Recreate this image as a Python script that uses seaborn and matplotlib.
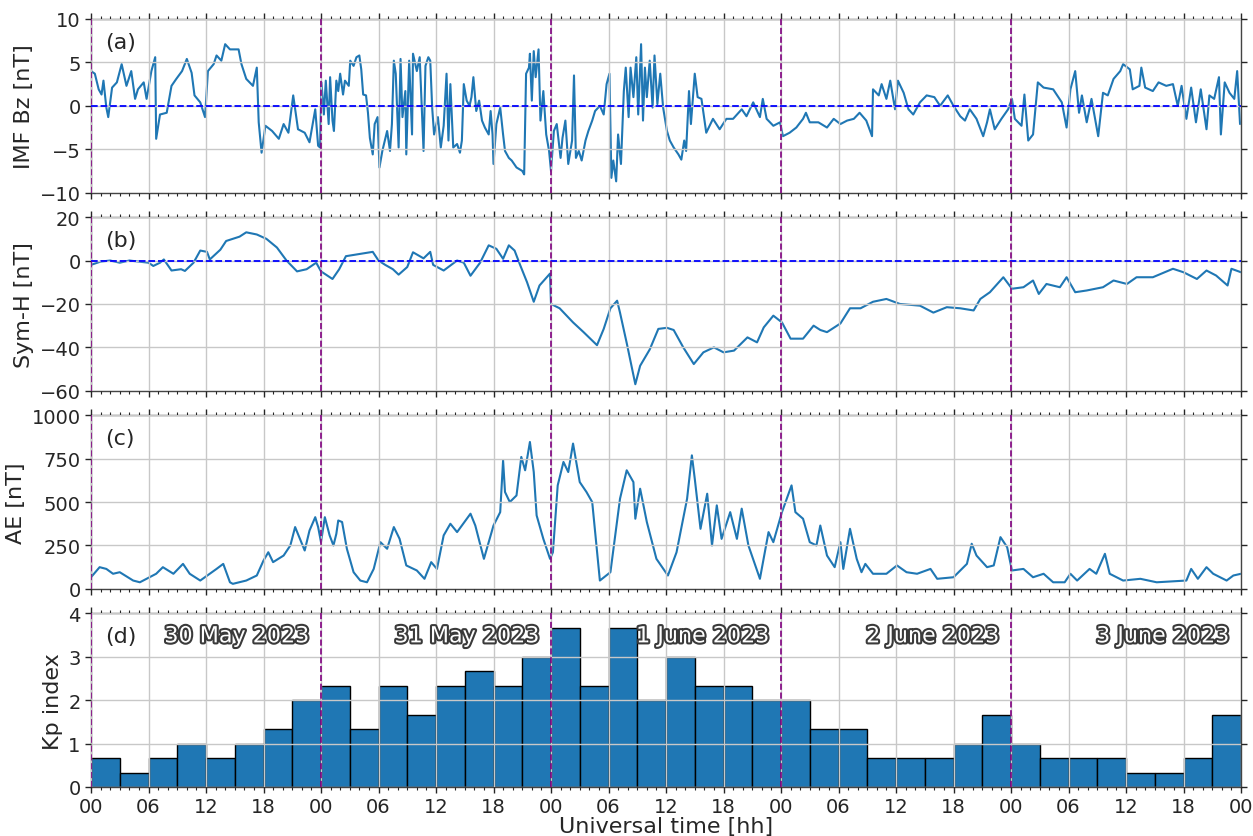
import numpy as np
import pandas as pd
import matplotlib
matplotlib.use("Agg")
import matplotlib.pyplot as plt
import matplotlib.patheffects as pe
from matplotlib.ticker import MultipleLocator, FixedLocator
import seaborn as sns

# ---- IMF Bz (nT) vs hours since 30 May 2023 00 UT ----
bz_hours = [
    0.0, 0.4, 0.8, 1.1, 1.3, 1.6, 1.8, 2.2, 2.7, 3.2,
    3.7, 4.2, 4.6, 4.9, 5.5, 5.8, 6.3, 6.7, 6.8, 7.2,
    7.9, 8.4, 8.9, 9.5, 10.0, 10.5, 10.8, 11.4, 11.9, 12.2,
    12.8, 13.1, 13.6, 14.0, 14.5, 15.4, 15.7, 16.2, 16.9, 17.3,
    17.5, 17.8, 18.2, 18.9, 19.6, 20.1, 20.6, 21.1, 21.6, 22.3,
    22.8, 23.4, 23.7,
    23.9, 24.05, 24.3, 24.5, 24.8, 24.95, 25.2, 25.35, 25.6, 25.8,
    26.0, 26.3, 26.5, 26.9, 27.05, 27.4, 27.7, 28.0, 28.2, 28.4,
    28.7, 28.9, 29.1, 29.4, 29.6, 29.9, 30.1, 30.4, 30.9, 31.2,
    31.4, 31.6, 31.8, 32.1, 32.3, 32.5, 32.8, 32.9, 33.2, 33.5,
    33.6, 34.0, 34.3, 34.7, 34.9, 35.2, 35.4, 35.6, 35.8, 36.2,
    36.5, 36.8, 37.1, 37.3, 37.5, 37.8, 38.2, 38.5, 38.7, 38.9,
    39.2, 39.5, 39.7, 39.9, 40.2, 40.5, 40.8, 41.1, 41.5, 41.7,
    41.9, 42.0, 42.3, 42.7, 43.0, 43.2, 43.6, 43.9, 44.4, 45.0,
    45.2, 45.4, 45.7, 45.8, 46.0, 46.2, 46.4, 46.7, 46.9, 47.2,
    47.5, 47.8, 48.0, 48.3, 48.6, 49.0, 49.2, 49.5, 49.8, 50.2,
    50.4, 50.6, 50.9, 51.2, 51.6, 51.9, 52.3, 52.6, 53.1, 53.5,
    53.8, 54.1, 54.3, 54.5, 54.8, 55.0, 55.3, 55.6, 55.8, 56.1,
    56.3, 56.6, 56.9, 57.1, 57.4, 57.6, 57.8, 58.0, 58.3, 58.6,
    58.8, 59.1, 59.4, 59.7, 60.1, 60.4, 60.8, 61.3, 61.6, 61.9,
    62.1, 62.4, 62.6, 63.0, 63.3,
    63.7, 64.2, 64.9, 65.6, 66.3, 67.0, 67.9, 68.4, 69.1, 69.8,
    70.1, 70.5, 71.2, 71.9, 72.2, 72.9, 73.6, 74.3, 74.6, 75.0,
    75.9, 76.8, 77.5, 78.2, 78.9, 79.6, 80.2, 80.9, 81.5, 81.6,
    82.2, 82.5, 83.0, 83.4, 83.9, 84.2, 84.8, 85.3, 85.8, 86.5,
    87.2, 88.0, 88.6, 89.4, 90.0, 90.7, 91.2, 91.7, 92.4, 93.1,
    93.5, 93.8, 94.3, 95.0, 95.7, 96.1, 96.4, 97.1, 97.4, 97.8,
    98.3, 98.8, 99.4, 100.4, 101.3, 101.8, 102.2, 102.7, 103.1, 103.4,
    103.9, 104.4, 105.1, 105.6, 106.1, 106.7, 107.4, 107.7, 108.4, 108.7,
    109.4, 109.6, 110.0, 110.8, 111.4, 112.2, 112.9, 113.4, 113.8, 114.3,
    114.8, 115.3, 115.8, 116.4, 116.7, 117.2, 117.7, 117.9, 118.3, 118.8,
    119.3, 119.6, 119.9]
bz_nT = [
    4.0, 3.7, 1.9, 1.3, 2.9, -0.2, -1.3, 2.1, 2.7, 4.8,
    2.3, 4.0, 0.8, 1.9, 2.7, 0.8, 4.0, 5.6, -3.8, -1.0,
    -0.8, 2.3, 3.1, 4.0, 5.4, 3.8, 1.2, 0.4, -1.3, 4.0,
    4.8, 5.8, 5.2, 7.1, 6.5, 6.5, 4.8, 3.1, 2.3, 4.4,
    -1.9, -5.4, -2.3, -2.9, -3.8, -2.1, -3.1, 1.2, -2.7, -3.1,
    -4.2, -0.4, -4.6,
    -4.8, 2.7, -1.0, 2.9, -2.1, 3.3, -1.7, -2.9, 2.9, 1.7,
    3.7, 1.3, 2.9, 2.3, 5.2, 4.6, 5.6, 5.8, 4.2, 1.3,
    1.2, -0.8, -3.7, -5.6, -2.1, -1.3, -7.1, -5.2, -2.9, -5.2,
    -2.1, 5.2, 3.7, -4.8, 5.4, -1.3, 1.7, -5.6, 5.2, -3.3,
    6.0, 4.0, 5.6, -5.2, 4.6, 5.6, 5.2, -0.2, -3.3, -1.3,
    -4.8, -2.3, 3.7, -4.0, 2.5, -4.8, -4.4, -5.4, -4.0, 2.5,
    0.6, 0.0, 1.0, 3.3, -0.6, 0.6, -1.7, -2.5, -3.3, -0.6,
    -3.3, -6.7, -2.1, -0.2, -3.3, -5.2, -6.0, -6.3, -7.1, -7.5,
    -7.9, 3.7, 4.4, 6.0, 0.6, 6.3, 3.3, 6.5, -1.7, 1.7,
    -3.3, -5.2, -7.5, -2.9, -2.1, -6.0, -3.7, -1.7, -6.7, -4.0,
    3.5, -6.0, -5.2, -6.3, -4.0, -2.9, -1.7, -0.6, 0.0, -1.0,
    2.5, 3.7, -8.3, -6.3, -8.7, -3.3, -6.7, 1.7, 4.4, -1.3,
    4.4, 1.0, 5.6, -1.0, 7.1, -1.7, 4.4, 1.0, 5.2, -0.2,
    5.8, 0.2, 3.7, -0.2, -2.9, -4.0, -4.8, -5.6, -6.2, -4.0,
    -5.2, 1.7, -2.1, 3.7, 1.0,
    0.8, -3.1, -1.5, -2.7, -1.5, -1.5, -0.4, -1.2, 0.4, -1.3,
    0.8, -1.5, -2.3, -1.9, -3.5, -3.1, -2.5, -1.5, -0.8, -1.9,
    -1.9, -2.5, -1.5, -2.1, -1.7, -1.5, -0.8, -1.7, -3.5, 1.9,
    1.2, 2.5, 0.8, 2.9, -0.4, 2.9, 1.5, -0.4, -1.0, 0.4,
    1.2, 1.0, 0.0, 1.2, 0.0, -1.2, -1.7, -0.4, -1.5, -3.5,
    -1.9, -0.4, -2.7, -1.5, -0.4, 0.8, -1.5, -2.3, 1.3, -4.0,
    -3.3, 2.7, 2.1, 1.9, 0.4, -2.5, 1.9, 4.0, -0.8, 1.2,
    -1.9, 0.8, -3.5, 1.5, 1.2, 3.1, 4.0, 4.8, 4.2, 1.9,
    2.3, 4.4, 2.1, 1.7, 2.7, 2.3, 2.5, 0.0, 2.3, -1.5,
    2.1, -1.9, 1.9, -2.7, 1.2, 0.8, 3.3, -3.3, 2.7, 1.5,
    0.8, 4.0, -2.1]

# ---- Sym-H (nT) ----
symh_hours = [0.0, 1.0, 2.0, 3.0, 4.0, 5.0, 6.0, 6.5, 7.2, 7.6, 8.4, 9.4, 9.8, 10.7, 11.4, 12.1, 12.4, 13.5, 14.1,
              15.5, 16.2, 17.3, 18.3, 19.4, 20.4, 21.5, 22.5, 23.5, 24.0, 25.2, 25.9, 26.6, 28.0, 29.4, 30.0,
              30.7, 31.5, 32.1, 33.0, 33.6, 34.7, 35.4, 35.7, 36.8, 38.2, 38.9, 39.6, 40.6, 41.5, 42.3, 43.0,
              43.6, 44.2, 44.8, 45.5, 46.2, 46.8, 47.9, 48.0, 48.9, 50.3, 51.4, 52.8, 53.5, 54.2, 54.9, 55.2,
              55.9, 56.8, 57.3, 58.3, 59.2, 60.1, 60.8, 61.8, 62.9, 63.9, 65.0, 66.0, 67.1, 68.5, 69.5, 70.2,
              71.2, 72.1, 73.0, 74.3, 75.4, 76.1, 76.8, 78.2, 79.2, 80.3, 81.6, 83.0, 84.4, 86.5, 87.9, 89.3,
              90.7, 92.1, 92.8, 93.8, 95.2, 96.1, 97.3, 98.3, 98.9, 99.7, 101.1, 101.8, 102.7, 103.9, 105.6,
              106.7, 108.1, 109.1, 110.8, 112.9, 114.0, 115.4, 116.4, 117.4, 118.6, 119.0, 120.0]
symh_nT = [-2.0, -0.5, 0.0, -1.0, 0.0, -0.5, -1.0, -2.5, -1.0, 0.5, -4.6, -4.0, -4.8, -1.0, 4.6, 4.0, 0.5, 5.0, 9.0,
           11.0, 13.0, 12.0, 10.0, 6.0, 0.0, -5.0, -4.0, -1.0, -5.0, -8.5, -4.0, 2.0, 3.0, 4.0, 0.0,
           -2.0, -4.0, -6.5, -3.0, 3.8, 1.0, 4.0, -2.0, -4.6, 0.0, -1.0, -7.0, -1.0, 7.0, 5.4, 0.8,
           7.0, 4.6, -2.3, -10.0, -19.0, -11.5, -6.0, -20.0, -22.0, -28.5, -33.0, -39.0, -31.5, -22.0, -18.5, -24.0,
           -38.0, -57.0, -48.5, -41.0, -31.5, -31.0, -32.0, -40.0, -47.7, -42.3, -40.0, -42.3, -41.5, -35.4, -37.7, -30.8,
           -25.4, -28.5, -36.0, -36.0, -30.0, -32.0, -33.0, -29.0, -22.0, -22.0, -19.0, -17.7, -20.0, -20.8, -24.0, -21.5,
           -22.0, -23.0, -17.7, -14.6, -7.7, -13.0, -12.3, -9.2, -15.4, -10.8, -12.3, -7.7, -14.6, -13.8, -12.3,
           -9.2, -10.8, -7.7, -7.7, -3.8, -5.4, -8.5, -4.6, -6.9, -11.5, -3.8, -5.4]

# ---- AE index (nT) ----
ae_hours = [0.0, 0.9, 1.6, 2.3, 3.0, 4.4, 5.1, 5.8, 6.8, 7.5, 8.6, 9.6, 10.3, 11.4, 12.4, 13.1, 13.8, 14.5, 14.8,
            16.2, 17.3, 18.0, 18.5, 19.0, 20.1, 20.8, 21.3, 21.8, 22.3, 22.8, 23.4, 23.7, 24.0, 24.4, 24.9, 25.3,
            25.6, 25.8, 26.2, 26.7, 27.4, 28.1, 28.8, 29.5, 30.2, 30.9, 31.6, 32.2, 32.9, 34.0, 34.8, 35.5, 36.1,
            36.8, 37.5, 38.2, 39.6, 40.1, 41.0, 41.5, 42.0, 42.7, 43.0, 43.2, 43.7, 44.4, 44.9, 45.3, 45.8, 46.2,
            46.5, 47.2, 47.9, 48.2, 48.7, 49.3, 49.8, 50.3, 51.0, 51.7, 52.3, 53.1, 54.2, 55.2, 55.9, 56.6, 56.8,
            57.3, 58.0, 59.0, 60.2, 61.1, 62.2, 62.7, 63.0, 63.6, 64.3, 64.8, 65.3, 65.8, 66.7, 67.4, 67.9, 68.6,
            69.8, 70.7, 71.2, 72.1, 73.1, 73.5, 74.3, 75.0, 75.7, 76.1, 76.8, 77.6, 78.2, 78.5, 79.2, 79.9, 80.4,
            80.8, 81.6, 83.0, 84.1, 85.1, 86.2, 87.6, 88.3, 90.0, 91.4, 91.9, 92.4, 93.5, 94.2, 94.9, 95.6, 96.1,
            97.3, 98.3, 99.4, 100.4, 101.6, 102.2, 102.9, 104.2, 104.9, 105.8, 106.3, 107.7, 109.5, 111.2, 114.3,
            114.8, 115.5, 116.4, 117.1, 118.5, 119.2, 120.0]
ae_nT = [67, 125, 115, 87, 96, 48, 38, 58, 87, 125, 87, 144, 87, 48, 87, 115, 144, 38, 29,
         48, 77, 163, 211, 154, 192, 250, 356, 288, 221, 336, 413, 356, 269, 413, 308, 250,
         317, 394, 385, 231, 96, 48, 38, 115, 269, 231, 356, 288, 135, 106, 58, 154, 115,
         308, 375, 327, 433, 365, 173, 269, 365, 442, 740, 558, 500, 538, 760, 683, 846, 673,
         423, 288, 173, 211, 596, 731, 673, 837, 615, 558, 500, 48, 96, 519, 683, 615, 404,
         577, 385, 173, 77, 211, 519, 769, 635, 346, 548, 250, 481, 288, 442, 288, 462, 250,
         58, 327, 269, 442, 596, 442, 404, 269, 250, 365, 192, 125, 269, 115, 346, 173, 96,
         144, 87, 87, 135, 96, 87, 115, 58, 67, 144, 260, 192, 125, 135, 298, 240, 106,
         115, 67, 87, 38, 38, 87, 48, 115, 87, 202, 87, 48, 58, 38, 48,
         115, 58, 125, 87, 48, 77, 87]

# ---- Kp index, 3-hour values ----
kp_hours = [1.5 + 3 * i for i in range(40)]
kp_values = [0.67, 0.33, 0.67, 1.00, 0.67, 1.00, 1.33, 2.00,
             2.33, 1.33, 2.33, 1.67, 2.33, 2.67, 2.33, 3.00,
             3.67, 2.33, 3.67, 2.00, 3.00, 2.33, 2.33, 2.00,
             2.00, 1.33, 1.33, 0.67, 0.67, 0.67, 1.00, 1.67,
             1.00, 0.67, 0.67, 0.67, 0.33, 0.33, 0.67, 1.67]

day_starts = [0, 24, 48, 72, 96]
day_names = ["30 May 2023", "31 May 2023", "1 June 2023", "2 June 2023", "3 June 2023"]
tick_hours = list(range(0, 121, 6))
tick_text = ["00", "06", "12", "18"] * 5 + ["00"]

sns.set_style("ticks")
plt.rcParams["font.family"] = ["DejaVu Sans"]
plt.rcParams["xtick.labelsize"] = 14
plt.rcParams["ytick.labelsize"] = 14

fig, axes = plt.subplots(4, 1, figsize=(12.53, 8.37), dpi=100, sharex=True)
fig.subplots_adjust(left=91 / 1253, right=1241 / 1253, top=1 - 20 / 837, bottom=1 - 788 / 837, hspace=0.141)

blue = "#1f77b4"
series = [
    (pd.DataFrame({"t": bz_hours, "v": bz_nT}), "IMF Bz [nT]", (-10, 10), [-10, -5, 0, 5, 10], "(a)"),
    (pd.DataFrame({"t": symh_hours, "v": symh_nT}), "Sym-H [nT]", (-60, 20), [-60, -40, -20, 0, 20], "(b)"),
    (pd.DataFrame({"t": ae_hours, "v": ae_nT}), "AE [nT]", (0, 1000), [0, 250, 500, 750, 1000], "(c)"),
]

for ax, (df, ylab, ylim, yt, tag) in zip(axes[:3], series):
    sns.lineplot(data=df, x="t", y="v", ax=ax, color=blue, lw=1.5, estimator=None, sort=False, zorder=2)
    ax.set_ylim(*ylim)
    ax.set_yticks(yt)
    ax.set_ylabel(ylab, fontsize=16)
    ax.text(0.012, 0.87, tag, transform=ax.transAxes, fontsize=16, ha="left", va="center")

for ax in axes[:2]:
    ax.axhline(0, color="blue", ls="--", lw=1.3, zorder=3)

# Kp bars, one per 3-hour interval
ax = axes[3]
ax.bar(kp_hours, kp_values, width=3, color=blue, edgecolor="black", linewidth=1.0, zorder=1)
ax.set_ylim(0, 4)
ax.set_yticks([0, 1, 2, 3, 4])
ax.set_ylabel("Kp index", fontsize=16)
ax.text(0.012, 0.87, "(d)", transform=ax.transAxes, fontsize=16, ha="left", va="center")
for d0, name in zip(day_starts, day_names):
    ax.text(d0 + 24 - 1.2, 3.47, name, fontsize=16, ha="right", va="center", color="white", zorder=5,
            path_effects=[pe.withStroke(linewidth=3, foreground="#3a3a3a")])

for ax in axes:
    for d0 in day_starts:
        ax.axvline(d0, color="purple", ls="--", lw=1.2, zorder=4)
    ax.set_xlim(0, 120)
    ax.xaxis.set_major_locator(FixedLocator(tick_hours))
    ax.xaxis.set_minor_locator(MultipleLocator(1))
    ax.grid(True, which="major", color="#c8c8c8", lw=1.0)
    ax.set_axisbelow(False)
    ax.tick_params(axis="both", which="both", top=True, right=True, direction="out")
    ax.tick_params(axis="both", which="major", length=4, width=1)
    ax.tick_params(axis="x", which="minor", length=2, width=0.8)
    for s in ax.spines.values():
        s.set_color("#444444")
        s.set_linewidth(1.0)
    ax.set_xlabel("")

axes[3].set_xticks(tick_hours)
axes[3].set_xticklabels(tick_text)
axes[3].set_xlabel("Universal time [hh]", fontsize=16, labelpad=0)

fig.savefig("out.png", dpi=100)
